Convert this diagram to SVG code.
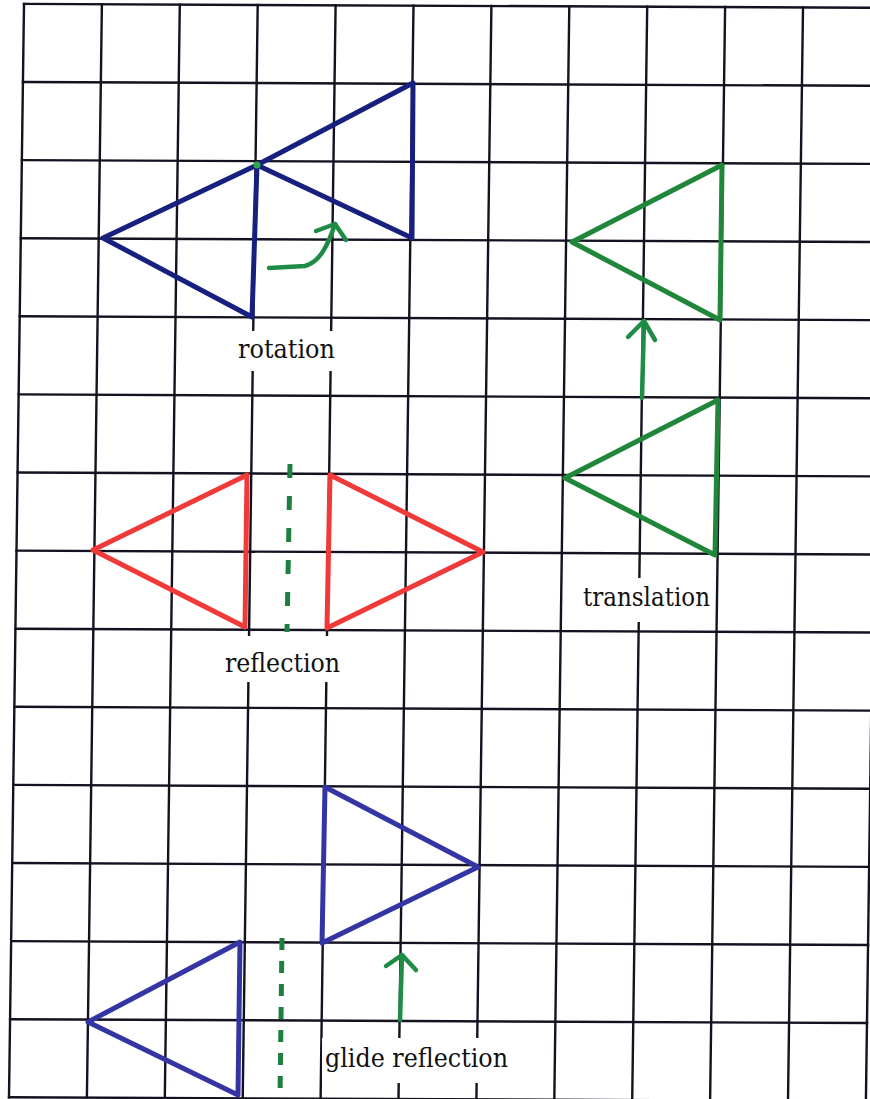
<svg xmlns="http://www.w3.org/2000/svg" width="870" height="1099" viewBox="0 0 870 1099">
<style>
.grid line{stroke:#141220;stroke-width:2.4;stroke-linecap:square}
.tri{fill:none;stroke-width:5;stroke-linejoin:round;stroke-linecap:round}
.navy{stroke:#17207e}
.blue{stroke:#3434a4}
.red{stroke:#f03a3a}
.green{stroke:#20873a}
.arrow{fill:none;stroke:#1f8c45;stroke-width:4.5;stroke-linecap:round;stroke-linejoin:round}
.dash{fill:none;stroke:#1e8040;stroke-width:5}
.lbl{font-family:"DejaVu Serif","Liberation Serif",serif;font-size:26px;fill:#111;text-anchor:middle}
.bg{fill:#fff}
</style>
<rect width="870" height="1099" fill="#fff"/>
<g id="grid" class="grid">
<line x1="24" y1="3.9" x2="9" y2="1097.3"/>
<line x1="101.9" y1="4.25" x2="86.9" y2="1097.65"/>
<line x1="179.8" y1="4.6" x2="164.8" y2="1098"/>
<line x1="257.7" y1="4.95" x2="242.7" y2="1098.35"/>
<line x1="335.6" y1="5.3" x2="320.6" y2="1098.7"/>
<line x1="413.5" y1="5.65" x2="398.5" y2="1099.05"/>
<line x1="491.4" y1="6" x2="476.4" y2="1099.4"/>
<line x1="569.3" y1="6.35" x2="554.3" y2="1099.75"/>
<line x1="647.2" y1="6.7" x2="632.2" y2="1100.1"/>
<line x1="725.1" y1="7.05" x2="710.1" y2="1100.45"/>
<line x1="803" y1="7.4" x2="788" y2="1100.8"/>
<line x1="880.9" y1="7.75" x2="865.9" y2="1101.15"/>
<line x1="24" y1="3.9" x2="880.9" y2="7.75"/>
<line x1="22.9" y1="82" x2="879.8" y2="85.85"/>
<line x1="21.9" y1="160.1" x2="878.8" y2="163.95"/>
<line x1="20.8" y1="238.2" x2="877.7" y2="242.05"/>
<line x1="19.7" y1="316.3" x2="876.6" y2="320.15"/>
<line x1="18.7" y1="394.4" x2="875.6" y2="398.25"/>
<line x1="17.6" y1="472.5" x2="874.5" y2="476.35"/>
<line x1="16.5" y1="550.6" x2="873.4" y2="554.45"/>
<line x1="15.4" y1="628.7" x2="872.3" y2="632.55"/>
<line x1="14.4" y1="706.8" x2="871.3" y2="710.65"/>
<line x1="13.3" y1="784.9" x2="870.2" y2="788.75"/>
<line x1="12.2" y1="863" x2="869.1" y2="866.85"/>
<line x1="11.2" y1="941.1" x2="868.1" y2="944.95"/>
<line x1="10.1" y1="1019.2" x2="867" y2="1023.05"/>
<line x1="9" y1="1097.3" x2="865.9" y2="1101.15"/>
</g>
<g id="rotation">
<polygon class="tri navy" points="257,165 103,238 252,317"/>
<polygon class="tri navy" points="257,165 413,83 412,238"/>
<circle cx="257" cy="165" r="3.5" fill="#2fa84a"/>
<rect class="bg" x="232" y="331" width="110" height="40"/>
<text class="lbl" x="286.5" y="358" textLength="97" lengthAdjust="spacingAndGlyphs">rotation</text>
</g>
<g id="reflection">
<polygon class="tri red" points="247,475 93,550 245,627"/>
<polygon class="tri red" points="330,475 483,552 327,628"/>
<line class="dash" x1="290" y1="464" x2="287" y2="632" stroke-dasharray="14 18"/>
<rect class="bg" x="221" y="636" width="124" height="46"/>
<text class="lbl" x="282.5" y="672" textLength="115" lengthAdjust="spacingAndGlyphs">reflection</text>
</g>
<g id="translation">
<polygon class="tri green" points="722,165 572,242 720,320"/>
<polygon class="tri green" points="718,400 565,478 715,555"/>
<rect class="bg" x="577" y="578" width="135" height="44"/>
<text class="lbl" x="646.5" y="606" textLength="127" lengthAdjust="spacingAndGlyphs">translation</text>
</g>
<g id="glide-reflection">
<polygon class="tri blue" points="240,942 88,1022 238,1095"/>
<polygon class="tri blue" points="325,787 478,867 322,943"/>
<line class="dash" x1="282" y1="938" x2="280" y2="1099" stroke-dasharray="12 11"/>
<rect class="bg" x="322" y="1038" width="190" height="45"/>
<text class="lbl" x="416.5" y="1067" textLength="183" lengthAdjust="spacingAndGlyphs">glide reflection</text>
</g>
<g id="connectors">
<path class="arrow" d="M269,268 L305,266 C320,262 328,245 335,224"/>
<polyline class="arrow" points="316,231 335,224 346,240"/>
<path class="arrow" d="M642,398 L644,321"/>
<polyline class="arrow" points="628,337 644,321 655,340"/>
<path class="arrow" d="M400,1020 L402,955"/>
<polyline class="arrow" points="386,966 402,955 416,970"/>
</g>
</svg>
